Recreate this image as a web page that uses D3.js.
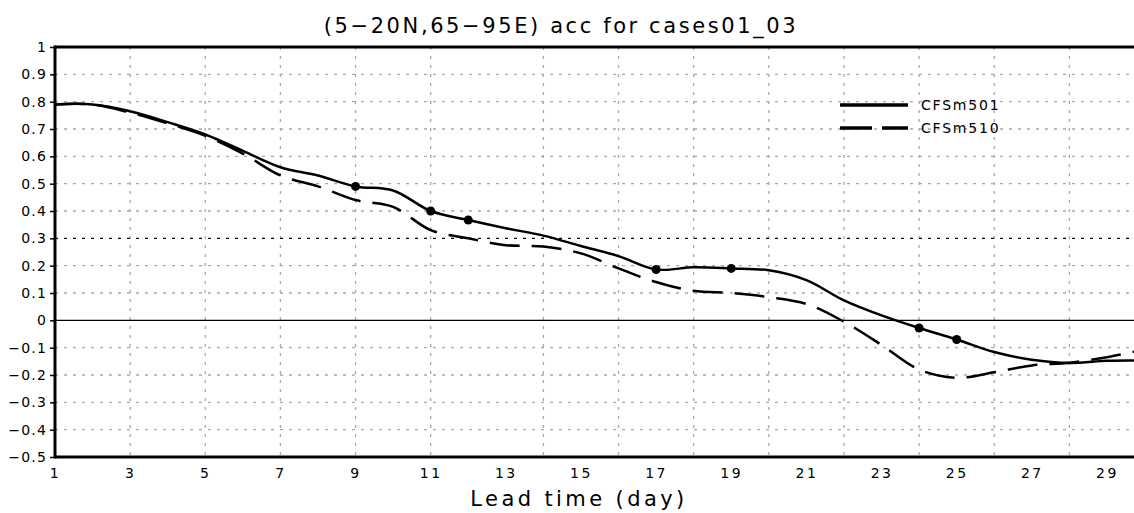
<!DOCTYPE html>
<html>
<head>
<meta charset="utf-8">
<script src="https://cdn.jsdelivr.net/npm/d3@7"></script>
<style>
  body { margin: 0; background: #fff; }
  svg text { font-family: "DejaVu Sans", sans-serif; }
</style>
</head>
<body>
<div id="chart"></div>
<script>
// lead days and anomaly correlation for each run
const days = d3.range(1, 30);
const cfs501 = [0.79, 0.79, 0.765, 0.725, 0.68, 0.62, 0.56, 0.53, 0.49, 0.475,
                0.40, 0.367, 0.337, 0.31, 0.272, 0.235, 0.186, 0.194, 0.19, 0.183,
                0.147, 0.073, 0.018, -0.028, -0.07, -0.116, -0.144, -0.156, -0.148];
const cfs510 = [0.79, 0.79, 0.76, 0.72, 0.675, 0.61, 0.53, 0.49, 0.44, 0.415,
                0.33, 0.30, 0.275, 0.27, 0.245, 0.19, 0.14, 0.108, 0.10, 0.085,
                0.06, -0.005, -0.09, -0.18, -0.21, -0.19, -0.165, -0.155, -0.135];
const markDays = [9, 11, 12, 17, 19, 24, 25];
const xTicks = d3.range(1, 30, 2);
const xGrid = [3, 5, 7, 9, 11, 14, 16, 18, 20, 22, 24, 26, 28];
const yTicks = d3.range(-5, 11).map(d => d / 10);
const seriesNames = ["CFSm501", "CFSm510"];

const width = 1134, height = 513;
const svg = d3.select("#chart").append("svg")
    .attr("width", width)
    .attr("height", height);

const x = d3.scaleLinear().domain([1, 29.72]).range([55, 1134]);
const y = d3.scaleLinear().domain([-0.5, 1]).range([457, 47]);

// grid
svg.append("g")
  .selectAll("line")
  .data(xGrid)
  .join("line")
    .attr("x1", d => x(d)).attr("x2", d => x(d))
    .attr("y1", y(1)).attr("y2", y(-0.5))
    .attr("stroke", "#a8a8a8")
    .attr("stroke-width", 1.3)
    .attr("stroke-dasharray", "3,6");

svg.append("g")
  .selectAll("line")
  .data(yTicks.filter(d => d > -0.5 && d < 1 && Math.abs(d) > 1e-9))
  .join("line")
    .attr("x1", x(1)).attr("x2", width)
    .attr("y1", d => y(d)).attr("y2", d => y(d))
    .attr("stroke", d => Math.abs(d - 0.3) < 1e-9 ? "#000" : "#a8a8a8")
    .attr("stroke-width", 1.3)
    .attr("stroke-dasharray", "3,6");

// zero line
svg.append("line")
    .attr("x1", x(1)).attr("x2", width)
    .attr("y1", y(0)).attr("y2", y(0))
    .attr("stroke", "#000").attr("stroke-width", 1.3);

// frame
svg.append("line")
    .attr("x1", x(1)).attr("x2", width)
    .attr("y1", y(1)).attr("y2", y(1))
    .attr("stroke", "#000").attr("stroke-width", 3);
svg.append("line")
    .attr("x1", x(1)).attr("x2", width)
    .attr("y1", y(-0.5)).attr("y2", y(-0.5))
    .attr("stroke", "#000").attr("stroke-width", 3);
svg.append("line")
    .attr("x1", x(1)).attr("x2", x(1))
    .attr("y1", y(1) - 1.5).attr("y2", y(-0.5) + 1.5)
    .attr("stroke", "#000").attr("stroke-width", 3);

// axes
const yAxis = d3.axisLeft(y).tickValues(yTicks).tickSize(4)
    .tickFormat(d => d === 0 ? "0" : d === 1 ? "1" : d3.format(".1f")(d).replace("-", "\u2212"));
svg.append("g")
    .attr("transform", `translate(${x(1) - 1},0)`)
    .call(yAxis)
    .call(g => g.select(".domain").remove())
    .call(g => g.selectAll(".tick line").attr("stroke-width", 1.5))
    .call(g => g.selectAll("text")
        .attr("font-size", 14).attr("letter-spacing", 1.2)
        .attr("x", -7).attr("fill", "#000"));

const xAxis = d3.axisBottom(x).tickValues(xTicks).tickSize(0);
svg.append("g")
    .attr("transform", `translate(0,${y(-0.5)})`)
    .call(xAxis)
    .call(g => g.select(".domain").remove())
    .call(g => g.selectAll("text")
        .attr("font-size", 14).attr("letter-spacing", 2.5)
        .attr("y", 11).attr("fill", "#000"));

// title and label
svg.append("text")
    .attr("x", 561).attr("y", 33)
    .attr("text-anchor", "middle")
    .attr("font-size", 21)
    .attr("letter-spacing", 2.6)
    .text("(5\u221220N,65\u221295E) acc for cases01_03");

svg.append("text")
    .attr("x", 579).attr("y", 506)
    .attr("text-anchor", "middle")
    .attr("font-size", 21)
    .attr("letter-spacing", 3.4)
    .text("Lead time (day)");

// series, extended to the right edge
const ext501 = cfs501.concat([-0.147]);
const ext510 = cfs510.concat([-0.115]);
const lineExt = vals => d3.line()
    .x((d, i) => x(i < days.length ? days[i] : 29.72))
    .y(d => y(d))
    .curve(d3.curveCatmullRom)(vals);

svg.append("path")
    .attr("d", lineExt(ext510))
    .attr("fill", "none")
    .attr("stroke", "#000")
    .attr("stroke-width", 2.5)
    .attr("stroke-dasharray", "30,12");

svg.append("path")
    .attr("d", lineExt(ext501))
    .attr("fill", "none")
    .attr("stroke", "#000")
    .attr("stroke-width", 2.5);

svg.append("g")
  .selectAll("circle")
  .data(markDays)
  .join("circle")
    .attr("cx", d => x(d))
    .attr("cy", d => y(cfs501[d - 1]))
    .attr("r", 4.5)
    .attr("fill", "#000");

// legend
const legend = svg.append("g");
seriesNames.forEach((name, i) => {
  const ly = 105 + i * 23;
  legend.append("line")
      .attr("x1", 840).attr("x2", 908)
      .attr("y1", ly).attr("y2", ly)
      .attr("stroke", "#000")
      .attr("stroke-width", 3.5)
      .attr("stroke-dasharray", i === 0 ? null : "32,10");
  legend.append("text")
      .attr("x", 921).attr("y", ly + 5)
      .attr("font-size", 14)
      .attr("letter-spacing", 1.8)
      .text(name);
});
</script>
</body>
</html>
